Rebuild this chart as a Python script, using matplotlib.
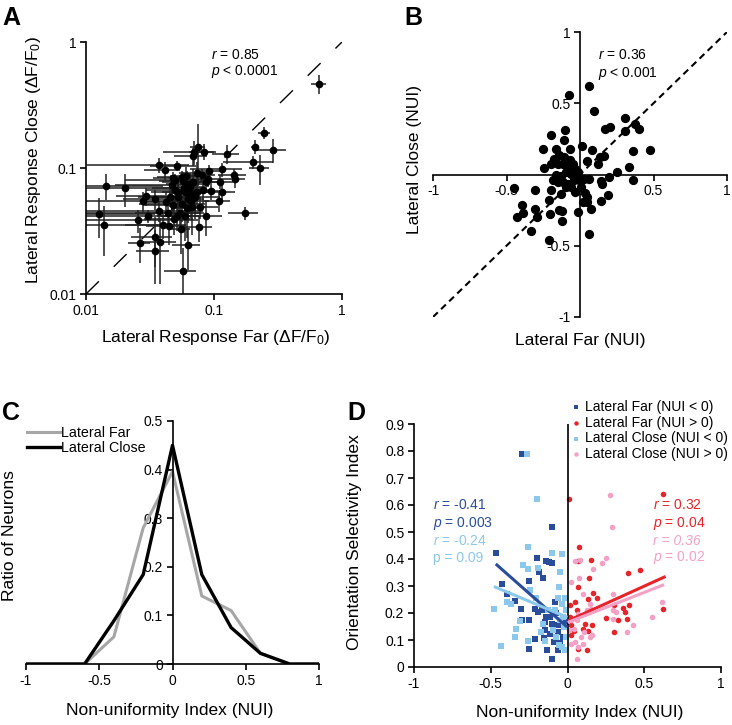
import numpy as np
import matplotlib
matplotlib.use("Agg")
import matplotlib.pyplot as plt

plt.rcParams['font.family'] = ['Liberation Sans', 'DejaVu Sans']
plt.rcParams['mathtext.fontset'] = 'custom'
plt.rcParams['mathtext.rm'] = 'Liberation Sans'
plt.rcParams['mathtext.it'] = 'Liberation Sans:italic'

# ---- panel A: lateral response far vs close (dF/F0), log-log with errors
a_far = [0.665, 0.247, 0.210, 0.287, 0.127, 0.203, 0.227, 0.143, 0.146, 0.115,
         0.111, 0.115, 0.109, 0.174, 0.095, 0.091, 0.086, 0.0764, 0.0623, 0.0569,
         0.0552, 0.0745, 0.0698, 0.0689, 0.0836, 0.0372, 0.0414, 0.0518, 0.0143, 0.0202,
         0.0126, 0.0137, 0.0255, 0.0264, 0.0292, 0.0277, 0.0346, 0.0346, 0.0381, 0.0346,
         0.0303, 0.0374, 0.040, 0.0445, 0.0484, 0.044, 0.0778, 0.0714, 0.0558, 0.0569,
         0.0811, 0.0816, 0.090, 0.0467, 0.0492, 0.0523, 0.0591, 0.063, 0.0558, 0.0481,
         0.0671, 0.0612, 0.0453, 0.0422, 0.0651, 0.0733, 0.0542, 0.0591, 0.051, 0.0601,
         0.069, 0.0644, 0.0481, 0.0733, 0.086, 0.058, 0.052, 0.062, 0.050, 0.066]
a_close = [0.464, 0.190, 0.148, 0.139, 0.130, 0.111, 0.100, 0.0885, 0.082, 0.0975,
           0.078, 0.065, 0.055, 0.0437, 0.066, 0.095, 0.0416, 0.0338, 0.0245, 0.0153,
           0.0326, 0.148, 0.135, 0.124, 0.135, 0.106, 0.0964, 0.1045, 0.0724, 0.069,
           0.0428, 0.035, 0.0385, 0.0255, 0.060, 0.0547, 0.0568, 0.0285, 0.026, 0.0221,
           0.0416, 0.0456, 0.0353, 0.0347, 0.0392, 0.0437, 0.0493, 0.0592, 0.0853, 0.0785,
           0.0879, 0.0667, 0.0813, 0.0733, 0.067, 0.059, 0.0648, 0.0569, 0.0522, 0.0509,
           0.0493, 0.048, 0.059, 0.0541, 0.0707, 0.0648, 0.0437, 0.0414, 0.0414, 0.0869,
           0.078, 0.0634, 0.0828, 0.0906, 0.078, 0.070, 0.065, 0.075, 0.080, 0.055]
a_far_err = [0.09, 0.027, 0.015, 0.075, 0.03, 0.085, 0.04, 0.035, 0.03, 0.05,
             0.03, 0.03, 0.025, 0.045, 0.02, 0.02, 0.03, 0.02, 0.015, 0.016,
             0.01, 0.01, 0.03, 0.02, 0.02, 0.027, 0.013, 0.02, 0.026, 0.03,
             0.022, 0.025, 0.05, 0.005, 0.012, 0.03, 0.015, 0.012, 0.012, 0.01,
             0.03, 0.045, 0.02, 0.015, 0.02, 0.035, 0.03, 0.04, 0.02, 0.02,
             0.02, 0.02, 0.025, 0.03, 0.02, 0.025, 0.02, 0.02, 0.03, 0.02,
             0.02, 0.015, 0.02, 0.015, 0.02, 0.02, 0.03, 0.02, 0.015, 0.015,
             0.03, 0.02, 0.015, 0.02, 0.02, 0.025, 0.02, 0.02, 0.03, 0.025]
a_close_err = [0.08, 0.02, 0.02, 0.03, 0.022, 0.013, 0.027, 0.01, 0.012, 0.012,
               0.01, 0.01, 0.01, 0.005, 0.01, 0.01, 0.013, 0.008, 0.009, 0.008,
               0.012, 0.075, 0.03, 0.02, 0.02, 0.015, 0.016, 0.01, 0.017, 0.02,
               0.015, 0.015, 0.008, 0.008, 0.01, 0.01, 0.01, 0.012, 0.014, 0.01,
               0.005, 0.008, 0.008, 0.01, 0.01, 0.01, 0.01, 0.02, 0.01, 0.015,
               0.01, 0.015, 0.01, 0.015, 0.012, 0.02, 0.02, 0.02, 0.015, 0.01,
               0.02, 0.02, 0.01, 0.01, 0.02, 0.015, 0.01, 0.015, 0.01, 0.015,
               0.02, 0.02, 0.01, 0.02, 0.01, 0.015, 0.015, 0.02, 0.01, 0.015]

# ---- panel B: NUI far vs close
b_far = [0.063, -0.073, 0.098, 0.308, 0.376, 0.399, 0.306, 0.172, 0.204, 0.478,
         0.361, 0.331, 0.361, 0.252, 0.197, 0.145, 0.152, 0.188, 0.143, 0.077,
         0.061, 0.048, 0.048, 0.018, 0.034, -0.011, 0.134, 0.163, 0.125, 0.079,
         0.016, 0.045, -0.034, -0.070, -0.066, -0.100, -0.111, -0.197, -0.254, -0.163,
         -0.141, -0.107, -0.175, -0.197, -0.247, -0.152, -0.118, -0.084, -0.050, -0.061,
         -0.016, -0.027, -0.039, -0.005, 0.029, 0.063, -0.163, -0.186, -0.152, -0.118,
         -0.084, -0.129, -0.095, -0.129, -0.141, -0.125, -0.122, -0.209, -0.202, -0.197,
         -0.304, -0.304, -0.295, -0.333, -0.397, -0.429, -0.451, -0.385, -0.209, -0.034,
         -0.061, 0.007, -0.095]
b_close = [0.622, 0.556, 0.446, 0.399, 0.352, 0.317, 0.305, 0.317, 0.336, 0.174,
           0.164, 0.056, -0.042, 0.016, -0.019, -0.045, -0.070, -0.141, -0.183, -0.239,
           -0.418, -0.160, -0.195, -0.192, -0.131, -0.265, 0.122, 0.127, 0.075, 0.169,
           0.197, 0.094, 0.040, 0.099, 0.176, 0.310, 0.239, 0.275, 0.176, 0.176,
           0.134, 0.122, 0.110, 0.075, 0.047, 0.075, 0.075, 0.063, 0.075, 0.005,
           0.016, -0.007, -0.042, -0.042, -0.031, -0.031, -0.007, -0.042, -0.054, -0.054,
           -0.066, -0.014, 0.016, -0.136, -0.249, -0.258, -0.324, -0.178, -0.277, -0.108,
           -0.106, -0.242, -0.300, -0.394, -0.211, -0.296, -0.096, -0.270, -0.460, -0.124,
           -0.089, -0.089, -0.089]

# ---- panel C: NUI distributions
nui_bins = [-1, -0.8, -0.6, -0.4, -0.2, 0, 0.2, 0.4, 0.6, 0.8, 1]
far_ratio = [0, 0, 0, 0.056, 0.28, 0.396, 0.14, 0.11, 0.022, 0, 0]
close_ratio = [0, 0, 0, 0.089, 0.184, 0.45, 0.184, 0.075, 0.022, 0, 0]

# ---- panel D: OSI vs NUI
far_neg_nui = [-0.296, -0.104, -0.463, -0.426, -0.393, -0.339, -0.304, -0.252, -0.198, -0.185,
               -0.159, -0.143, -0.122, -0.104, -0.213, -0.165, -0.252, -0.148, -0.296, -0.25,
               -0.209, -0.154, -0.115, -0.133, -0.098, -0.065, -0.083, -0.065, -0.078, -0.039,
               -0.028, -0.022, -0.05, -0.104, -0.115, -0.141, -0.011, -0.191, -0.148, -0.061,
               -0.089]
far_neg_osi = [0.789, 0.52, 0.421, 0.306, 0.270, 0.244, 0.214, 0.318, 0.405, 0.353,
               0.328, 0.394, 0.390, 0.384, 0.213, 0.210, 0.173, 0.167, 0.173, 0.066,
               0.105, 0.109, 0.124, 0.064, 0.031, 0.062, 0.241, 0.155, 0.2, 0.173,
               0.111, 0.148, 0.089, 0.161, 0.186, 0.186, 0.167, 0.204, 0.136, 0.128,
               0.093]
far_pos_nui = [0.011, 0.076, 0.152, 0.07, 0.139, 0.07, 0.163, 0.189, 0.135, 0.048,
               0.015, 0.059, 0.015, 0.113, 0.157, 0.102, 0.022, 0.041, 0.026, 0.135,
               0.128, 0.07, 0.25, 0.33, 0.385, 0.304, 0.363, 0.374, 0.402, 0.391,
               0.472, 0.624, 0.624, 0.3]
far_pos_osi = [0.623, 0.446, 0.396, 0.394, 0.331, 0.297, 0.275, 0.257, 0.251, 0.239,
               0.229, 0.21, 0.186, 0.161, 0.155, 0.14, 0.155, 0.132, 0.118, 0.134,
               0.064, 0.068, 0.18, 0.173, 0.177, 0.229, 0.217, 0.204, 0.229, 0.347,
               0.361, 0.64, 0.214, 0.13]
close_neg_nui = [-0.261, -0.198, -0.104, -0.035, -0.257, -0.289, -0.257, -0.191, -0.05, -0.057,
                 -0.478, -0.43, -0.393, -0.365, -0.333, -0.343, -0.311, -0.257, -0.246, -0.202,
                 -0.17, -0.148, -0.061, -0.017, -0.039, -0.083, -0.046, -0.022, -0.072, -0.007,
                 -0.017, -0.039, -0.093, -0.126, -0.159, -0.054, -0.007, -0.028]
close_neg_osi = [0.789, 0.623, 0.421, 0.417, 0.446, 0.378, 0.363, 0.365, 0.353, 0.297,
                 0.214, 0.077, 0.241, 0.235, 0.142, 0.111, 0.171, 0.097, 0.285, 0.257,
                 0.128, 0.097, 0.254, 0.254, 0.235, 0.21, 0.173, 0.148, 0.111, 0.111,
                 0.064, 0.074, 0.136, 0.21, 0.161, 0.08, 0.21, 0.186]
close_pos_nui = [0.28, 0.291, 0.254, 0.228, 0.08, 0.052, 0.022, 0.076, 0.163, 0.102,
                 0.146, 0.15, 0.07, 0.026, 0.059, 0.124, 0.298, 0.296, 0.315, 0.298,
                 0.385, 0.428, 0.548, 0.613, 0.059, 0.07, 0.048, 0.026, 0.085, 0.146,
                 0.157, 0.041, 0.011, 0.102, 0.106]
close_pos_osi = [0.638, 0.52, 0.402, 0.386, 0.396, 0.391, 0.316, 0.328, 0.363, 0.27,
                 0.235, 0.214, 0.196, 0.173, 0.173, 0.21, 0.272, 0.21, 0.204, 0.176,
                 0.13, 0.157, 0.186, 0.239, 0.031, 0.074, 0.093, 0.087, 0.111, 0.111,
                 0.118, 0.142, 0.136, 0.087, 0.13]
# regression line end points (NUI, OSI)
fit_far_neg = ([-0.46, -0.01], [0.378, 0.152])
fit_close_neg = ([-0.47, -0.01], [0.296, 0.186])
fit_far_pos = ([0.01, 0.63], [0.173, 0.333])
fit_close_pos = ([0.01, 0.62], [0.167, 0.303])

dark_blue = '#2a4d9b'
light_blue = '#8cc8ec'
red = '#e8232a'
pink = '#f5a0c6'

W, H = 732, 725
fig = plt.figure(figsize=(W / 100, H / 100), dpi=100)


def box(l, t, r, b):
    return fig.add_axes([l / W, 1 - b / H, (r - l) / W, (b - t) / H])


def fig_text(x, y, s, **kw):
    fig.text(x / W, 1 - y / H, s, **kw)


def style(ax):
    ax.spines['top'].set_visible(False)
    ax.spines['right'].set_visible(False)
    for sp in ('left', 'bottom'):
        ax.spines[sp].set_linewidth(1.2)
    ax.tick_params(direction='out', length=4, width=1.2, labelsize=10, pad=3)


LBL = 12.5
TXT = 10

# ---------------- A
axA = box(86, 42, 342, 294)
axA.set_xscale('log')
axA.set_yscale('log')
axA.plot([0.01, 1], [0.01, 1], color='k', lw=1, dashes=(13, 15))
axA.errorbar(a_far, a_close, xerr=a_far_err, yerr=a_close_err, fmt='o', color='k',
             ms=4.5, ecolor='#222222', elinewidth=1.1, capsize=0)
axA.set_xlim(0.01, 1)
axA.set_ylim(0.01, 1)
axA.minorticks_off()
axA.set_xticks([0.01, 0.1, 1], ['0.01', '0.1', '1'])
axA.set_yticks([0.01, 0.1, 1], ['0.01', '0.1', '1'])
style(axA)
fig_text(211, 55, r'$r$ = 0.85', fontsize=TXT, va='center')
fig_text(211, 72, r'$p$ < 0.0001', fontsize=TXT, va='center')
fig_text(216, 338, 'Lateral Response Far (ΔF/F$_0$)', fontsize=LBL, ha='center', va='center')
fig_text(34, 160, 'Lateral Response Close (ΔF/F$_0$)', fontsize=LBL, ha='center',
         va='center', rotation=90)

# ---------------- B
axB = box(433, 32, 727, 317)
axB.plot([-1, 1], [-1, 1], color='k', lw=1.5, dashes=(3.2, 2.2))
axB.scatter(b_far, b_close, s=32, color='k', zorder=3)
axB.set_xlim(-1, 1)
axB.set_ylim(-1, 1)
axB.spines['left'].set_position(('data', 0))
axB.spines['bottom'].set_position(('data', 0))
style(axB)
axB.set_xticks([-1, -0.5, 0, 0.5, 1], ['-1', '-0.5', '0', '0.5', '1'])
axB.set_yticks([-1, -0.5, 0.5, 1], ['-1', '-0.5', '0.5', '1'])
fig_text(598, 55, r'$r$ = 0.36', fontsize=TXT, va='center')
fig_text(598, 73, r'$p$ < 0.001', fontsize=TXT, va='center')
fig_text(580, 341, 'Lateral Far (NUI)', fontsize=LBL, ha='center', va='center')
fig_text(415, 160, 'Lateral Close (NUI)', fontsize=LBL, ha='center', va='center', rotation=90)

# ---------------- C
axC = box(26, 421, 319, 664)
axC.plot(nui_bins, far_ratio, color='#a6a6a6', lw=2.2, label='Lateral Far')
axC.plot(nui_bins, close_ratio, color='k', lw=2.4, label='Lateral Close')
axC.set_xlim(-1, 1)
axC.set_ylim(0, 0.5)
axC.spines['left'].set_position(('data', 0))
style(axC)
axC.set_xticks([-1, -0.5, 0, 0.5, 1], ['-1', '-0.5', '0', '0.5', '1'])
axC.set_yticks([0, 0.1, 0.2, 0.3, 0.4, 0.5], ['0', '0.1', '0.2', '0.3', '0.4', '0.5'])
axC.legend(loc='upper left', bbox_to_anchor=(27 / W, 1 - 426 / H), bbox_transform=fig.transFigure,
           frameon=False, fontsize=10.3, handlelength=2.3, handletextpad=0.1,
           labelspacing=0.1, borderaxespad=0, borderpad=0)
fig_text(170, 711, 'Non-uniformity Index (NUI)', fontsize=LBL, ha='center', va='center')
fig_text(10, 536, 'Ratio of Neurons', fontsize=LBL, ha='center', va='center', rotation=90)

# ---------------- D
axD = box(414, 424, 721, 667)
axD.axvline(0, color='k', lw=1.2)
axD.scatter(far_neg_nui, far_neg_osi, marker='s', s=16, color=dark_blue, lw=0,
            label='Lateral Far (NUI < 0)')
axD.scatter(far_pos_nui, far_pos_osi, marker='o', s=16, color=red, lw=0,
            label='Lateral Far (NUI > 0)')
axD.scatter(close_neg_nui, close_neg_osi, marker='s', s=16, color=light_blue, lw=0,
            label='Lateral Close (NUI < 0)')
axD.scatter(close_pos_nui, close_pos_osi, marker='o', s=16, color=pink, lw=0,
            label='Lateral Close (NUI > 0)')
axD.plot(*fit_far_neg, color=dark_blue, lw=2.2)
axD.plot(*fit_close_neg, color=light_blue, lw=2.2)
axD.plot(*fit_far_pos, color=red, lw=2.2)
axD.plot(*fit_close_pos, color=pink, lw=2.2)
axD.set_xlim(-1, 1)
axD.set_ylim(0, 0.9)
style(axD)
axD.set_xticks([-1, -0.5, 0, 0.5, 1], ['-1', '-0.5', '0', '0.5', '1'])
yt = [0, 0.1, 0.2, 0.3, 0.4, 0.5, 0.6, 0.7, 0.8, 0.9]
axD.set_yticks(yt, ['0'] + ['%.1f' % v for v in yt[1:]])
axD.legend(loc='upper left', bbox_to_anchor=(572 / W, 1 - 400 / H), bbox_transform=fig.transFigure,
           frameon=False, fontsize=10, handlelength=0.6, handletextpad=0.35,
           labelspacing=0.12, borderaxespad=0, borderpad=0, markerscale=0.8)
fig_text(433, 505, r'$r$ = -0.41', fontsize=TXT, va='center', color=dark_blue)
fig_text(433, 523, r'$p$ = 0.003', fontsize=TXT, va='center', color=dark_blue)
fig_text(433, 541, r'$r$ = -0.24', fontsize=TXT, va='center', color=light_blue)
fig_text(433, 558, 'p = 0.09', fontsize=TXT, va='center', color=light_blue)
fig_text(653, 505, r'$r$ = 0.32', fontsize=TXT, va='center', color=red)
fig_text(653, 523, r'$p$ = 0.04', fontsize=TXT, va='center', color=red)
fig_text(653, 541, 'r = 0.36', fontsize=TXT, va='center', color=pink, style='italic')
fig_text(653, 558, r'$p$ = 0.02', fontsize=TXT, va='center', color=pink)
fig_text(580, 712, 'Non-uniformity Index (NUI)', fontsize=LBL, ha='center', va='center')
fig_text(355, 542, 'Orientation Selectivity Index', fontsize=LBL, ha='center', va='center',
         rotation=90)

# panel letters
for letter, x, y in [('A', 2, 6), ('B', 404, 6), ('C', 2, 401), ('D', 347, 401)]:
    fig_text(x, y, letter, fontsize=18, fontweight='bold', va='top')

fig.savefig('out.png', dpi=100)
